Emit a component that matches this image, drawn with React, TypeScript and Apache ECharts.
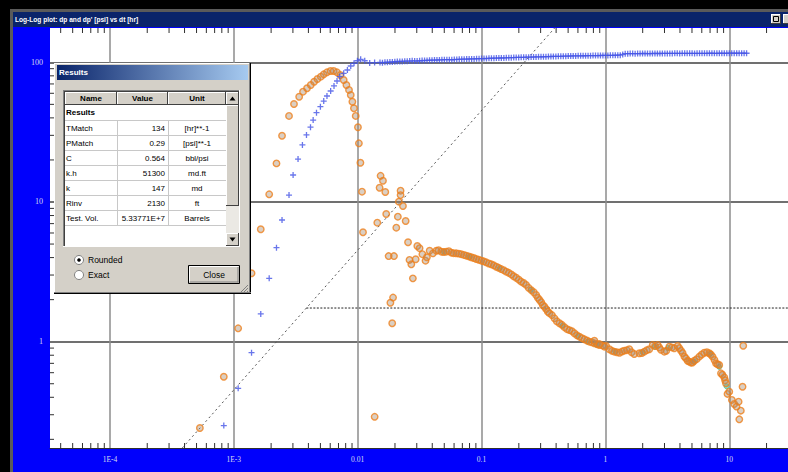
import React, { useEffect, useRef } from "react";
import * as echarts from "echarts";

// ---- axis extents (log axes) ----
const X_MIN = 3.28e-5;
const X_MAX = 29.8;
const Y_MIN = 0.1734;
const Y_MAX = 176;

// ---- tick labels ----
const xTickValues = [1e-4, 1e-3, 1e-2, 1e-1, 1, 10];
const xTickLabels = ["1E-4", "1E-3", "0.01", "0.1", "1", "10"];
const yTickValues = [1, 10, 100];
const yTickLabels = ["1", "10", "100"];
const minorMultipliers = [2, 3, 4, 5, 6, 7, 8, 9];
const minorDecadesX = [1e-5, 1e-4, 1e-3, 1e-2, 1e-1, 1, 10];
const minorDecadesY = [0.1, 1, 10, 100];

// ---- pressure change dp [psi] vs dt [hr] (blue +) ----
const pressureEarly: number[][] = [
  [8.3e-4, 0.251], [1.084e-3, 0.464], [1.39e-3, 0.834], [1.65e-3, 1.58], [1.93e-3, 2.84],
  [2.21e-3, 4.71], [2.45e-3, 7.43], [2.79e-3, 11.2], [3.01e-3, 15.6], [3.3e-3, 20.3],
  [3.58e-3, 25.6], [3.86e-3, 30.2], [4.16e-3, 34.3], [4.37e-3, 38.6], [4.65e-3, 43.6],
  [5.0e-3, 48.1], [5.32e-3, 52.8], [5.65e-3, 57.4], [6.05e-3, 62.3], [6.44e-3, 67.7],
  [6.81e-3, 73.5], [7.16e-3, 78.9], [7.71e-3, 83.4], [8.26e-3, 88.1], [8.79e-3, 94.1],
  [9.34e-3, 98.4], [9.95e-3, 102.6], [1.057e-2, 105.0], [1.14e-2, 102.6], [1.25e-2, 99.0],
  [1.37e-2, 99.6],
];
const pressureLate: number[][] = [
  [0.01514, 99.7], [0.01585, 99.4], [0.0166, 99.9], [0.01738, 100.1], [0.0182, 100.4],
  [0.01905, 100.6], [0.01995, 100.9], [0.02089, 101.3], [0.02188, 101.4], [0.02291, 101.5],
  [0.02399, 101.8], [0.02512, 101.9], [0.0263, 102.1], [0.02754, 102.4], [0.02884, 102.3],
  [0.0302, 102.1], [0.03162, 102.6], [0.03311, 102.9], [0.03467, 103.0], [0.03631, 103.2],
  [0.03802, 103.4], [0.03981, 103.5], [0.04169, 103.7], [0.04365, 103.9], [0.04571, 104.0],
  [0.04786, 104.2], [0.05012, 104.4], [0.05248, 104.5], [0.05495, 104.5], [0.05754, 104.3],
  [0.06026, 104.6], [0.0631, 104.8], [0.06607, 105.0], [0.06918, 105.2], [0.07244, 105.3],
  [0.07586, 105.4], [0.07943, 105.6], [0.08318, 105.7], [0.0871, 105.8], [0.0912, 106.0],
  [0.0955, 106.2], [0.1, 106.3], [0.1047, 106.4], [0.1096, 106.5], [0.1148, 106.7],
  [0.1202, 106.9], [0.1259, 107.0], [0.1318, 107.2], [0.138, 107.3], [0.1445, 107.3],
  [0.1514, 107.5], [0.1585, 107.7], [0.166, 107.9], [0.1738, 108.0], [0.182, 108.1],
  [0.1905, 108.3], [0.1995, 108.4], [0.2089, 108.5], [0.2188, 108.6], [0.2291, 108.8],
  [0.2399, 108.9], [0.2512, 109.0], [0.263, 109.1], [0.2754, 109.2], [0.2884, 109.4],
  [0.302, 109.5], [0.3162, 109.6], [0.3311, 109.8], [0.3467, 109.9], [0.3631, 110.0],
  [0.3802, 110.1], [0.3981, 110.2], [0.4169, 110.3], [0.4365, 110.4], [0.4571, 110.6],
  [0.4786, 110.7], [0.5012, 110.8], [0.5248, 110.9], [0.5495, 111.0], [0.5754, 111.0],
  [0.6026, 111.2], [0.631, 111.3], [0.6607, 111.4], [0.6918, 111.4], [0.7244, 111.5],
  [0.7586, 111.6], [0.7943, 111.7], [0.8318, 111.8], [0.871, 111.8], [0.912, 111.9],
  [0.955, 112.0], [1.0, 112.0], [1.047, 112.0], [1.096, 112.1], [1.148, 112.2],
  [1.202, 112.3], [1.259, 112.4], [1.318, 112.5], [1.38, 113.8], [1.445, 115.2],
  [1.514, 115.3], [1.585, 115.4], [1.66, 115.4], [1.738, 115.3], [1.82, 115.4],
  [1.905, 115.5], [1.995, 115.6], [2.089, 115.6], [2.188, 115.5], [2.291, 115.4],
  [2.399, 115.6], [2.512, 115.7], [2.63, 115.6], [2.754, 115.6], [2.884, 115.7],
  [3.02, 115.8], [3.162, 115.8], [3.311, 115.7], [3.467, 115.8], [3.631, 115.9],
  [3.802, 115.9], [3.981, 115.8], [4.169, 115.9], [4.365, 115.9], [4.571, 115.9],
  [4.786, 116.0], [5.012, 116.0], [5.248, 115.8], [5.495, 115.9], [5.754, 116.0],
  [6.026, 116.0], [6.31, 115.9], [6.607, 116.0], [6.918, 116.1], [7.244, 116.1],
  [7.586, 116.0], [7.943, 116.0], [8.318, 116.1], [8.71, 116.1], [9.12, 116.0],
  [9.55, 116.1], [10.0, 116.2], [10.47, 116.2], [10.96, 116.1], [11.48, 116.1],
  [12.02, 116.2], [12.59, 116.2], [13.18, 116.1], [13.8, 116.1],
];

// ---- derivative dp' [psi] vs dt [hr] (orange o) ----
const derivativeData: number[][] = [
  [5.32e-4, 0.241], [8.3e-4, 0.561], [1.084e-3, 1.247], [1.39e-3, 3.09], [1.65e-3, 6.38],
  [1.93e-3, 11.35], [2.21e-3, 18.9], [2.45e-3, 29.8], [2.79e-3, 41.3], [3.06e-3, 50.3],
  [3.37e-3, 56.7], [3.62e-3, 61.6], [3.9e-3, 65.2], [4.18e-3, 68.8], [4.45e-3, 72.6],
  [4.73e-3, 75.9], [5.04e-3, 78.9], [5.32e-3, 82.0], [5.65e-3, 84.8], [6.03e-3, 86.7],
  [6.4e-3, 86.7], [6.81e-3, 84.8], [7.24e-3, 81.1], [7.71e-3, 74.7], [8.11e-3, 68.8],
  [8.51e-3, 63.4], [8.79e-3, 58.3], [9.06e-3, 52.2], [9.33e-3, 46.9], [9.64e-3, 41.3],
  [1.005e-2, 34.3], [1.023e-2, 26.3], [1.052e-2, 19.1], [1.084e-2, 11.85], [1.104e-2, 6.07],
  [1.531e-2, 15.4], [1.6e-2, 14.2], [1.503e-2, 12.65], [1.671e-2, 11.8], [2.22e-2, 12.05],
  [2.22e-2, 11.2], [2.15e-2, 10.05], [2.32e-2, 9.36], [1.7e-2, 8.2], [2.11e-2, 7.85],
  [2.44e-2, 7.31], [1.44e-2, 7.11], [2.05e-2, 6.55], [2.55e-2, 5.15], [1.778e-2, 4.1],
  [1.963e-2, 4.1], [2.79e-2, 2.84], [2.62e-2, 3.85], [2.71e-2, 3.58], [2.94e-2, 3.89],
  [3.03e-2, 4.84], [3.16e-2, 4.67], [3.33e-2, 4.23], [3.53e-2, 3.8], [3.62e-2, 4.02],
  [3.81e-2, 4.48], [4.05e-2, 4.29], [1.93e-2, 2.07], [1.837e-2, 1.9], [1.9e-2, 1.355],
  [1.371e-2, 0.29],
  [4.32e-2, 4.48], [4.5e-2, 4.52], [4.73e-2, 4.41], [4.95e-2, 4.38], [5.19e-2, 4.41],
  [5.45e-2, 4.45], [5.7e-2, 4.34], [5.95e-2, 4.3], [6.25e-2, 4.29], [6.55e-2, 4.27],
  [6.86e-2, 4.23], [7.2e-2, 4.18], [7.53e-2, 4.13], [7.9e-2, 4.08], [8.26e-2, 4.02],
  [8.65e-2, 3.97], [9.06e-2, 3.91], [9.5e-2, 3.86], [9.95e-2, 3.8], [0.104, 3.76],
  [0.109, 3.7], [0.1145, 3.63], [0.12, 3.58], [0.1255, 3.52], [0.1315, 3.44],
  [0.1375, 3.38], [0.144, 3.31], [0.151, 3.25], [0.158, 3.17], [0.166, 3.11],
  [0.174, 3.03], [0.182, 2.94], [0.1905, 2.87], [0.2, 2.78], [0.209, 2.69],
  [0.219, 2.63], [0.229, 2.55], [0.24, 2.43], [0.252, 2.34], [0.264, 2.26],
  [0.276, 2.16], [0.285, 2.06], [0.294, 1.99], [0.303, 1.92], [0.312, 1.83],
  [0.322, 1.78], [0.333, 1.71], [0.343, 1.64], [0.353, 1.6], [0.37, 1.55],
  [0.388, 1.47], [0.405, 1.4], [0.426, 1.355], [0.446, 1.32], [0.467, 1.27],
  [0.49, 1.23], [0.513, 1.21], [0.537, 1.19], [0.562, 1.15], [0.59, 1.11],
  [0.617, 1.086], [0.647, 1.06], [0.677, 1.04], [0.71, 1.02], [0.743, 1.0],
  [0.778, 0.99], [0.815, 0.975], [0.855, 0.96], [0.895, 0.947], [0.95, 0.94],
  [1.014, 0.931], [0.815, 1.016], [0.895, 0.962], [0.982, 0.921], [1.077, 0.883],
  [1.13, 0.86], [1.18, 0.848], [1.24, 0.84], [1.3, 0.834], [1.36, 0.85],
  [1.42, 0.863], [1.49, 0.87], [1.56, 0.883], [1.63, 0.84], [1.71, 0.817],
  [1.88, 0.826], [1.97, 0.83], [2.06, 0.848], [2.16, 0.87], [2.26, 0.883],
  [2.41, 0.948], [2.52, 0.93], [2.64, 0.948], [2.72, 0.91], [2.81, 0.875],
  [2.99, 0.848], [3.1, 0.86], [3.28, 0.921], [3.44, 0.91], [3.6, 0.897],
  [3.83, 0.931], [3.95, 0.9], [4.08, 0.863], [4.2, 0.83], [4.34, 0.782],
  [4.47, 0.76], [4.61, 0.731], [4.75, 0.72], [4.91, 0.708], [5.05, 0.71],
  [5.22, 0.731], [5.45, 0.75], [5.73, 0.782], [6.0, 0.81], [6.28, 0.834],
  [6.6, 0.84], [6.9, 0.826], [7.1, 0.81], [7.33, 0.782], [7.6, 0.74],
  [7.81, 0.7], [8.05, 0.69], [8.3, 0.681], [8.57, 0.594], [8.8, 0.58],
  [9.12, 0.556], [9.25, 0.53], [9.4, 0.504], [9.68, 0.423], [10.0, 0.439],
  [10.5, 0.383], [10.97, 0.358], [11.45, 0.343], [11.9, 0.372], [12.4, 0.321],
  [12.05, 0.278], [12.97, 0.936], [12.8, 0.476],
];

// ---- model derivative points (teal, mostly hidden under the orange) ----
const modelData: number[][] = [
  [0.05, 4.4], [0.08, 4.05], [0.14, 3.35], [0.25, 2.35], [0.45, 1.3], [0.6, 1.1],
  [0.72, 1.0], [0.85, 0.95], [1.2, 0.85], [2.0, 0.84], [2.5, 0.92], [3.2, 0.9],
  [5.2, 0.72], [7.0, 0.82], [8.3, 0.66], [9.5, 0.48],
];

// ---- straight lines: unit slope and radial flow stabilisation ----
const unitSlopeLine: number[][] = [[3.0e-4, 0.1356], [0.5, 226]];
const radialFlowLine: number[][] = [[3.85e-3, 1.742], [40, 1.742]];

// ---- dialog table ----
const resultNames = ["TMatch", "PMatch", "C", "k.h", "k", "Rinv", "Test. Vol."];
const resultValues = ["134", "0.29", "0.564", "51300", "147", "2130", "5.33771E+7"];
const resultUnits = ["[hr]**-1", "[psi]**-1", "bbl/psi", "md.ft", "md", "ft", "Barrels"];

const TITLE = "Log-Log plot: dp and dp' [psi] vs dt [hr]";

const xMinorTicks = minorDecadesX
  .flatMap((d) => minorMultipliers.map((m) => d * m))
  .filter((v) => v > X_MIN && v < X_MAX);
const yMinorTicks = minorDecadesY
  .flatMap((d) => minorMultipliers.map((m) => d * m))
  .filter((v) => v > Y_MIN && v < Y_MAX);

function labelFor(v: number, values: number[], labels: string[]) {
  const e = Math.round(Math.log10(v));
  const i = values.findIndex((tv) => Math.round(Math.log10(tv)) === e);
  return i >= 0 && Math.abs(Math.log10(v) - e) < 0.01 ? labels[i] : "";
}

function buildGraphics() {
  const F = '"Liberation Sans", Arial, sans-serif';
  const Z = 100;
  const els: any[] = [];
  const rect = (x: number, y: number, w: number, h: number, style: any) =>
    els.push({ type: "rect", z: Z, silent: true, shape: { x, y, width: w, height: h }, style });
  const line = (x1: number, y1: number, x2: number, y2: number, stroke: string, lw = 1) =>
    els.push({ type: "line", z: Z, silent: true, shape: { x1, y1, x2, y2 }, style: { stroke, lineWidth: lw } });
  const text = (x: number, y: number, t: string, font: string, fill = "#000", align = "left") =>
    els.push({
      type: "text", z: Z, silent: true, x, y,
      style: { text: t, font, fill, textAlign: align, align, textVerticalAlign: "middle", verticalAlign: "middle" },
    });
  const button = (x: number, y: number, w: number, h: number) => {
    rect(x, y, w, h, { fill: "#d4d0c8" });
    line(x + 0.5, y, x + 0.5, y + h, "#ffffff");
    line(x, y + 0.5, x + w, y + 0.5, "#ffffff");
    line(x + w - 0.5, y, x + w - 0.5, y + h, "#404040");
    line(x, y + h - 0.5, x + w, y + h - 0.5, "#404040");
  };

  // window frame and title bar
  rect(0, 0, 788, 9, { fill: "#000" });
  rect(0, 0, 10, 472, { fill: "#000" });
  rect(10, 9, 778, 3, { fill: "#5a5a5a" });
  rect(10, 9, 3, 463, { fill: "#5a5a5a" });
  rect(13, 12, 775, 15, { fill: "#0a246a" });
  text(15, 19.5, TITLE, "bold 6.6px " + F, "#ffffff");
  button(771, 14, 10, 10);
  rect(773.5, 16.5, 5, 5, { fill: "none", stroke: "#000", lineWidth: 1 });
  button(783, 14, 6, 10);

  // dialog body
  rect(54, 63, 197, 231, { fill: "#d4d0c8" });
  line(54.5, 63, 54.5, 294, "#ffffff");
  line(54, 63.5, 251, 63.5, "#ffffff");
  line(249.5, 63, 249.5, 294, "#808080");
  line(250.5, 63, 250.5, 294, "#000000");
  line(54, 292.5, 251, 292.5, "#808080");
  line(54, 293.5, 251, 293.5, "#000000");
  rect(57, 65, 191, 15, {
    fill: new echarts.graphic.LinearGradient(0, 0, 1, 0, [
      { offset: 0, color: "#0a246a" },
      { offset: 1, color: "#a6caf0" },
    ]),
  });
  text(59, 72.5, "Results", "bold 8px " + F, "#ffffff");

  // table
  rect(63, 90, 177, 157, { fill: "#ffffff" });
  line(63.5, 90, 63.5, 247, "#808080");
  line(63, 90.5, 240, 90.5, "#808080");
  line(64.5, 91, 64.5, 246, "#404040");
  line(64, 91.5, 239, 91.5, "#404040");
  line(239.5, 90, 239.5, 247, "#ffffff");
  line(63, 246.5, 240, 246.5, "#ffffff");
  const headers: [number, number, string][] = [[65, 117, "Name"], [117, 168, "Value"], [168, 226, "Unit"]];
  headers.forEach(([x0, x1, lab]) => {
    button(x0, 92, x1 - x0, 13);
    text((x0 + x1) / 2, 98.5, lab, "bold 8px " + F, "#000", "center");
  });
  text(66, 112.5, "Results", "bold 8px " + F);
  line(65, 120.5, 226, 120.5, "#c8c8c8");
  resultNames.forEach((nm, i) => {
    const y0 = 120 + 15 * i;
    text(66, y0 + 8, nm, "8px " + F);
    text(165, y0 + 8, resultValues[i], "8px " + F, "#000", "right");
    text(197, y0 + 8, resultUnits[i], "8px " + F, "#000", "center");
    line(65, y0 + 15.5, 226, y0 + 15.5, "#c8c8c8");
  });
  line(117.5, 120, 117.5, 225, "#c8c8c8");
  line(168.5, 120, 168.5, 225, "#c8c8c8");

  // scrollbar
  rect(226, 92, 13, 154, { fill: "#ebe9e4" });
  button(226, 92, 13, 13);
  button(226, 105, 13, 101);
  button(226, 233, 13, 13);
  els.push({ type: "polygon", z: Z, silent: true, shape: { points: [[229.5, 100.5], [232.5, 96.5], [235.5, 100.5]] }, style: { fill: "#000" } });
  els.push({ type: "polygon", z: Z, silent: true, shape: { points: [[229.5, 237.5], [232.5, 241.5], [235.5, 237.5]] }, style: { fill: "#000" } });

  // radio buttons
  els.push({ type: "circle", z: Z, silent: true, shape: { cx: 79, cy: 260, r: 4.5 }, style: { fill: "#fff", stroke: "#808080", lineWidth: 1 } });
  els.push({ type: "circle", z: Z, silent: true, shape: { cx: 79, cy: 260, r: 1.8 }, style: { fill: "#000" } });
  text(88, 260, "Rounded", "8.5px " + F);
  els.push({ type: "circle", z: Z, silent: true, shape: { cx: 79, cy: 275, r: 4.5 }, style: { fill: "#fff", stroke: "#808080", lineWidth: 1 } });
  text(88, 275, "Exact", "8.5px " + F);

  // Close button
  rect(188.5, 265.5, 51, 18, { fill: "#d4d0c8", stroke: "#000", lineWidth: 1 });
  line(189.5, 266.5, 238.5, 266.5, "#ffffff");
  line(189.5, 266.5, 189.5, 282.5, "#ffffff");
  line(238, 267, 238, 282.5, "#808080");
  line(189.5, 282, 238.5, 282, "#808080");
  text(214, 274.5, "Close", "8.5px " + F, "#000", "center");

  // size grip
  line(241, 292, 248, 285, "#808080");
  line(244, 292, 248, 288, "#808080");
  line(247, 292, 248, 291, "#808080");
  return els;
}

function buildOption(): any {
  const labelStyle = {
    showMinLabel: false,
    showMaxLabel: false,
    interval: 0,
    margin: 7,
    color: "#d8dcf0",
    fontFamily: '"Liberation Serif", serif',
  };
  return {
    animation: false,
    backgroundColor: "#0000fc",
    grid: { left: 50, top: 28, right: 0, bottom: 24, show: true, backgroundColor: "#ffffff", borderWidth: 0 },
    xAxis: {
      type: "log",
      min: X_MIN,
      max: X_MAX,
      axisLine: { show: true, lineStyle: { color: "#303030", width: 1 } },
      axisTick: { show: false },
      splitLine: { show: true, showMinLine: false, showMaxLine: false, lineStyle: { color: "#8c8c8c", width: 1.5 } },
      axisLabel: { ...labelStyle, fontSize: 7.5, formatter: (v: number) => labelFor(v, xTickValues, xTickLabels) },
    },
    yAxis: {
      type: "log",
      min: Y_MIN,
      max: Y_MAX,
      axisLine: { show: false },
      axisTick: { show: false },
      splitLine: { show: true, showMinLine: false, showMaxLine: false, lineStyle: { color: "#404040", width: 1.5 } },
      axisLabel: { ...labelStyle, fontSize: 8, formatter: (v: number) => labelFor(v, yTickValues, yTickLabels) },
    },
    graphic: { elements: buildGraphics() },
    series: [
      {
        type: "custom",
        silent: true,
        z: 1,
        data: xMinorTicks.map((v) => [v, Y_MIN]),
        renderItem: (params: any, api: any) => {
          const x = api.coord([api.value(0), Y_MIN])[0];
          const cs = params.coordSys;
          return {
            type: "group",
            children: [
              { type: "line", shape: { x1: x, y1: cs.y, x2: x, y2: cs.y + 5 }, style: { stroke: "#303030", lineWidth: 1 } },
              { type: "line", shape: { x1: x, y1: cs.y + cs.height, x2: x, y2: cs.y + cs.height - 5 }, style: { stroke: "#303030", lineWidth: 1 } },
            ],
          };
        },
      },
      {
        type: "custom",
        silent: true,
        z: 1,
        data: yMinorTicks.map((v) => [X_MIN, v]),
        renderItem: (params: any, api: any) => {
          const y = api.coord([X_MIN, api.value(1)])[1];
          const cs = params.coordSys;
          return { type: "line", shape: { x1: cs.x, y1: y, x2: cs.x + 4, y2: y }, style: { stroke: "#303030", lineWidth: 1 } };
        },
      },
      {
        type: "line",
        silent: true,
        data: unitSlopeLine,
        symbol: "none",
        clip: true,
        z: 2,
        lineStyle: { color: "#555555", width: 1, type: [2, 3] },
      },
      {
        type: "line",
        silent: true,
        data: radialFlowLine,
        symbol: "none",
        clip: true,
        z: 2,
        lineStyle: { color: "#222222", width: 1, type: [2, 1.5] },
      },
      {
        type: "scatter",
        silent: true,
        data: modelData,
        symbol: "circle",
        symbolSize: 5,
        z: 3,
        itemStyle: { color: "#70d2bc", borderColor: "#3fbf9f", borderWidth: 1 },
      },
      {
        type: "scatter",
        silent: true,
        data: derivativeData,
        symbol: "circle",
        symbolSize: 6.5,
        z: 4,
        itemStyle: { color: "rgba(165,135,105,0.5)", borderColor: "#ee7f1c", borderWidth: 1.4 },
      },
      {
        type: "scatter",
        silent: true,
        data: pressureEarly.concat(pressureLate),
        symbol: "path://M0,5H10M5,0V10",
        symbolSize: 6,
        z: 5,
        itemStyle: { color: "transparent", borderColor: "#4354e6", borderWidth: 1.3 },
      },
    ],
  };
}

export default function App() {
  const ref = useRef<HTMLDivElement>(null);
  useEffect(() => {
    if (!ref.current) return;
    const chart = echarts.init(ref.current, undefined, { renderer: "svg" });
    chart.setOption(buildOption());
    return () => chart.dispose();
  }, []);
  return <div ref={ref} style={{ position: "fixed", left: 0, top: 0, width: 788, height: 472 }} />;
}
